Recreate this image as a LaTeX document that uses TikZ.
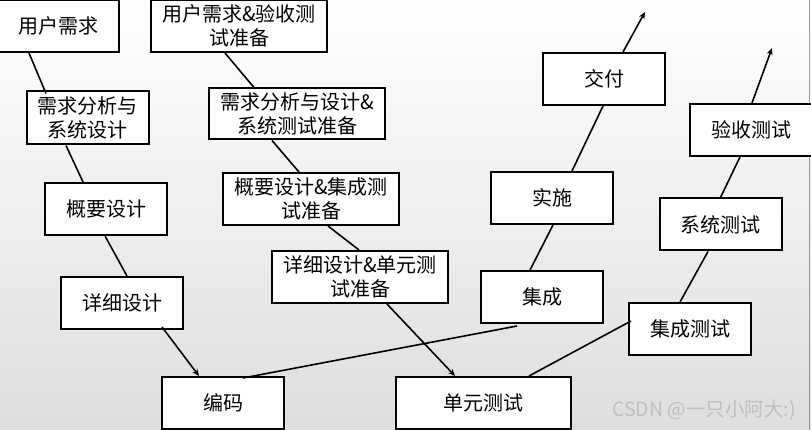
\documentclass[tikz,border=0pt]{standalone}
\usepackage{fontspec}
\setmainfont{Noto Sans CJK SC}
\usetikzlibrary{arrows.meta}
\begin{document}
\begin{tikzpicture}[x=1pt,y=-1pt,
  box/.style={draw=black,line width=2pt,fill=white,minimum width=122pt,minimum height=52pt,inner sep=0pt,align=center,font=\fontsize{20}{24}\selectfont},
  wbox/.style={box,minimum width=176pt},
  conn/.style={line width=1.6pt,black},
  arr/.style={conn,-{Stealth[length=7pt,width=6pt]}}]
\useasboundingbox (0,0) rectangle (811,430);
\shade[top color=white,bottom color=black!13] (0,0) rectangle (811,430);
\draw[black!40,line width=0.8pt] (809.5,0) -- (809.5,430);
% left leg
\node[box] (uq) at (58,26) {用户需求};
\node[box,minimum height=53pt] (xq) at (87.5,118) {需求分析与\\系统设计};
\node[box] (gy) at (106,209) {概要设计};
\node[box] (xx) at (122,303) {详细设计};
\node[box] (bm) at (223,403) {编码};
% middle leg
\node[wbox] (uqy) at (239,26) {用户需求\&验收测\\试准备};
\node[wbox,minimum height=51pt] (xqy) at (297,114) {需求分析与设计\&\\系统测试准备};
\node[wbox] (gyj) at (311,199) {概要设计\&集成测\\试准备};
\node[wbox] (xxd) at (360,277) {详细设计\&单元测\\试准备};
\node[box,minimum width=175pt] (dy) at (483.5,403) {单元测试};
% right legs
\node[box] (jc) at (542,297) {集成};
\node[box] (ss) at (552,198) {实施};
\node[box] (jf) at (604,79) {交付};
\node[box] (ys) at (751,130) {验收测试};
\node[box] (xt) at (720.5,224.5) {系统测试};
\node[box] (jcs) at (690,329) {集成测试};
\coordinate (top1) at (645,12);
\coordinate (top2) at (772,48);
% connectors
\draw[conn] ([xshift=-29pt]uq.south) -- ([xshift=-41.5pt,yshift=-3pt]xq.north);
\draw[conn] ([xshift=-21.5pt]xq.south) -- ([xshift=-23pt]gy.north);
\draw[conn] ([xshift=-1pt]gy.south) -- ([xshift=5pt]xx.north);
\draw[arr] ([xshift=40pt,yshift=3pt]xx.south) -- ([xshift=-24pt]bm.north);
\draw[conn] ([xshift=20pt,yshift=-2pt]bm.north) -- ([xshift=-25pt,yshift=-2pt]jc.south);
\draw[conn] ([xshift=-12pt]jc.north) -- ([xshift=1pt]ss.south);
\draw[conn] ([xshift=20pt]ss.north) -- ([xshift=-1pt]jf.south);
\draw[arr] ([xshift=19pt]jf.north) -- (top1);
\draw[conn] ([xshift=-14pt]uqy.south) -- ([xshift=-43pt]xqy.north);
\draw[conn] ([xshift=-25pt]xqy.south) -- ([xshift=-12pt]gyj.north);
\draw[conn] ([xshift=17pt]gyj.south) -- ([xshift=-1pt]xxd.north);
\draw[arr] ([xshift=27pt]xxd.south) -- ([xshift=-28.5pt]dy.north);
\draw[conn] ([xshift=45.5pt]dy.north) -- ([xshift=3pt,yshift=8pt]jcs.west);
\draw[conn] ([xshift=-10pt]jcs.north) -- ([xshift=-12.5pt]xt.south);
\draw[conn] (xt.north) -- ([xshift=-11pt]ys.south);
\draw[arr] ([xshift=1pt]ys.north) -- (top2);
\node[text=black!25,font=\fontsize{19.5}{22}\selectfont,anchor=center] (wm) at (704,410) {CSDN @一只小阿大:)};
\end{tikzpicture}
\end{document}
